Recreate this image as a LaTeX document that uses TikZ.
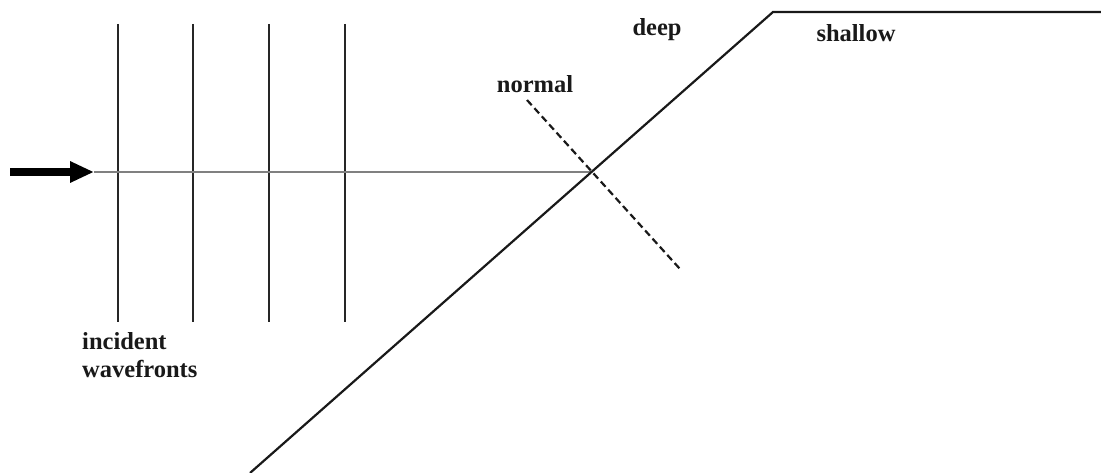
\documentclass[tikz,border=0pt]{standalone}
\usepackage{fontspec}
\setmainfont{Liberation Serif}
\usetikzlibrary{arrows.meta}
\begin{document}
\begin{tikzpicture}[x=1pt,y=-1pt,
  wavefront/.style={line width=2.2pt,black!85},
  ray/.style={line width=1.5pt,black!50},
  shore/.style={line width=2.2pt,black!90},
  normalline/.style={line width=2.2pt,black!90,dash pattern=on 7pt off 4pt},
  lbl/.style={font=\fontsize{24.5}{28}\selectfont\bfseries,inner sep=0pt,text=black!90},
  bigarrow/.style={line width=8pt,-{Triangle[length=24pt,width=20pt]}}]
\useasboundingbox (0,0) rectangle (1101,473);
% coordinates
\coordinate (w1t) at (118,24); \coordinate (w1b) at (118,322);
\coordinate (w2t) at (193,24); \coordinate (w2b) at (193,322);
\coordinate (w3t) at (269,24); \coordinate (w3b) at (269,322);
\coordinate (w4t) at (345,24); \coordinate (w4b) at (345,322);
\coordinate (as) at (10,172); \coordinate (at) at (94,172);
\coordinate (hit) at (592,172);
\coordinate (sb) at (250,473); \coordinate (sc) at (773,12); \coordinate (se) at (1101,12);
\coordinate (ns) at (527,100); \coordinate (ne) at (680,269);
% wavefronts
\draw[wavefront] (w1t) -- (w1b);
\draw[wavefront] (w2t) -- (w2b);
\draw[wavefront] (w3t) -- (w3b);
\draw[wavefront] (w4t) -- (w4b);
% ray
\draw[ray] (at) -- (hit);
\draw[bigarrow] (as) -- (at);
% shore
\draw[shore] (sb) -- (sc) -- (se);
% normal
\draw[normalline] (ns) -- (ne);
% labels
\node[lbl] (normal) at (535,84) {normal};
\node[lbl] (deep) at (657,30) {deep};
\node[lbl] (shallow) at (856,33) {shallow};
\node[lbl,align=left,anchor=north west] (inc) at (82,332) {incident\\wavefronts};
\end{tikzpicture}
\end{document}
